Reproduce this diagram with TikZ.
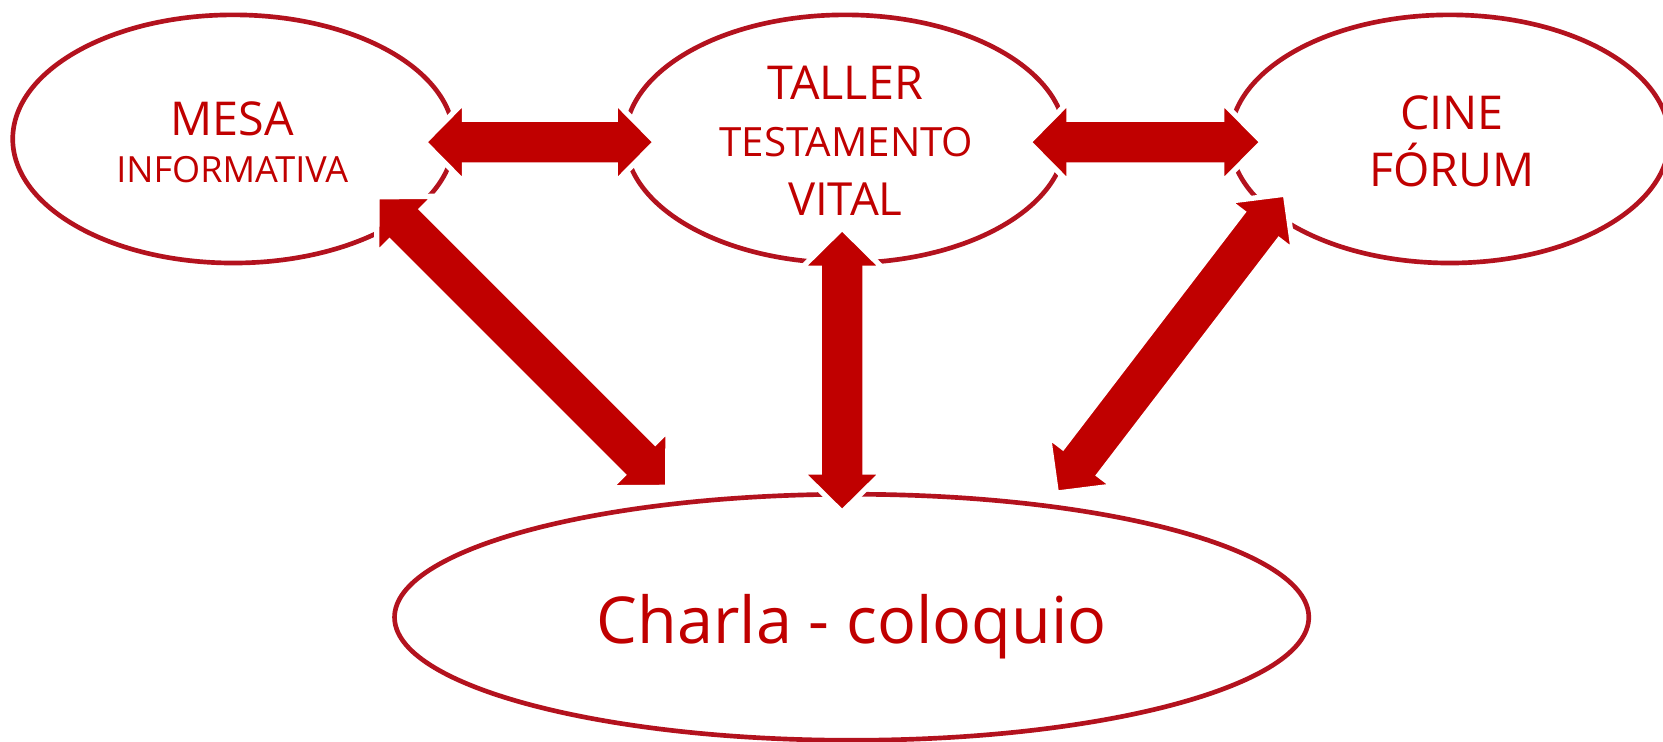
\documentclass[tikz,border=0pt]{standalone}
\usepackage{fontspec}
\setmainfont{Open Sans}
\usetikzlibrary{shapes.geometric,calc}
\definecolor{txtred}{HTML}{C00000}
\definecolor{linered}{HTML}{B3121E}
\tikzset{
  ell/.style={ellipse, draw=linered, line width=4.4pt, fill=none, inner sep=0pt},
  lbl/.style={text=txtred, anchor=base, inner sep=0pt},
  arr/.style={fill=txtred, draw=white, line width=5pt, line join=miter}
}
\newcommand\dblarr[2]{%
  \coordinate (ha) at ($(#1)!38pt!(#2)$);
  \coordinate (hb) at ($(#2)!38pt!(#1)$);
  \path[arr] (#1)
    -- ($(ha)!38.5pt!90:(#2)$) -- ($(ha)!21.5pt!90:(#2)$)
    -- ($(hb)!21.5pt!-90:(#1)$) -- ($(hb)!38.5pt!-90:(#1)$)
    -- (#2)
    -- ($(hb)!38.5pt!90:(#1)$) -- ($(hb)!21.5pt!90:(#1)$)
    -- ($(ha)!21.5pt!-90:(#2)$) -- ($(ha)!38.5pt!-90:(#2)$)
    -- cycle;}
\begin{document}
\begin{tikzpicture}[x=1pt,y=-1pt]
\useasboundingbox (0,0) rectangle (1568,699);
% ellipses
\node[ell, minimum width=416pt, minimum height=234pt] (mesa) at (220,131) {};
\node[ell, minimum width=415pt, minimum height=234pt] (taller) at (797,131) {};
\node[ell, minimum width=414pt, minimum height=234pt] (cine) at (1367,131) {};
\node[ell, minimum width=862pt, minimum height=232pt] (charla) at (803,582) {};
% texts
\node[lbl, font=\fontsize{44}{44}\selectfont] (t1) at (219,128) {MESA};
\node[lbl, font=\fontsize{34}{34}\selectfont] (t2) at (219,172) {INFORMATIVA};
\node[lbl, font=\fontsize{44}{44}\selectfont] (t3) at (797,94) {TALLER};
\node[lbl, font=\fontsize{38}{38}\selectfont] (t4) at (798,148) {TESTAMENTO};
\node[lbl, font=\fontsize{43}{43}\selectfont] (t5) at (797,203) {VITAL};
\node[lbl, font=\fontsize{44}{44}\selectfont] (t6) at (1369,122) {CINE};
\node[lbl, font=\fontsize{44}{44}\selectfont] (t7) at (1369,176) {FÓRUM};
\node[lbl, font=\fontsize{61}{61}\selectfont] (t8) at (803,607) {Charla - coloquio};
% arrow tips
\coordinate (a1) at (400,134);
\coordinate (a2) at (618,134);
\coordinate (b1) at (970,134);
\coordinate (b2) at (1190,134);
\coordinate (c1) at (794,215);
\coordinate (c2) at (794,483);
\coordinate (d1) at (355.5,185.5);
\coordinate (d2) at (629.5,459.5);
\coordinate (e1) at (1212,183);
\coordinate (e2) at (996,465);
\dblarr{a1}{a2}
\dblarr{b1}{b2}
\dblarr{c1}{c2}
\dblarr{d1}{d2}
\dblarr{e1}{e2}
\end{tikzpicture}
\end{document}
